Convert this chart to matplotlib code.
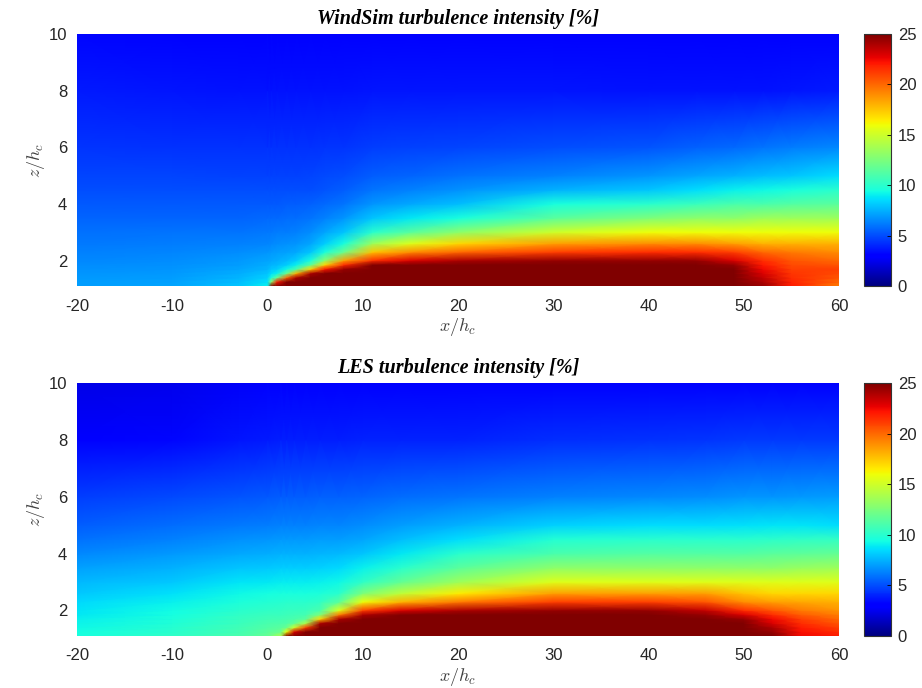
import numpy as np
import matplotlib
matplotlib.use("Agg")
import matplotlib.pyplot as plt


# ------------------------------------------------------------
# Grid (heights shared by both panels)
# ------------------------------------------------------------
Z_LEVELS = [1.1, 1.25, 1.4, 1.55, 1.7, 1.85, 2.0, 2.3, 2.6, 3.0,
            3.5, 4.0, 4.5, 5.0, 6.0, 8.0, 10.0]

# ------------------------------------------------------------
# WindSim turbulence intensity [%], one vertical profile per x station
# ------------------------------------------------------------
WINDSIM_X = [-20, -10, -3, 0, 0.4, 1, 2, 3, 4.5, 6, 8, 11, 15, 20,
             30, 40, 45, 49, 52, 55, 60]
WINDSIM_TI = [
    [7.0, 7.0, 6.9, 6.8, 6.7, 6.6, 6.5, 6.3, 6.1, 5.9, 5.6, 5.3, 5.0, 4.8, 4.4, 3.8, 3.3],
    [7.2, 7.1, 7.0, 6.9, 6.8, 6.7, 6.6, 6.4, 6.2, 6.0, 5.6, 5.3, 5.0, 4.8, 4.3, 3.7, 3.2],
    [8.0, 7.8, 7.6, 7.4, 7.2, 7.0, 6.9, 6.6, 6.3, 6.0, 5.6, 5.3, 5.0, 4.7, 4.3, 3.6, 3.1],
    [9.0, 8.6, 8.3, 8.0, 7.6, 7.4, 7.2, 6.8, 6.4, 6.1, 5.7, 5.3, 5.0, 4.7, 4.3, 3.6, 3.1],
    [25, 13, 9.5, 8.5, 8.0, 7.6, 7.3, 6.9, 6.5, 6.1, 5.7, 5.3, 5.0, 4.7, 4.3, 3.6, 3.1],
    [25, 22, 12, 9.0, 8.2, 7.7, 7.4, 7.0, 6.6, 6.2, 5.7, 5.3, 5.0, 4.7, 4.3, 3.6, 3.1],
    [25, 25, 20, 12, 9.2, 8.2, 7.7, 7.1, 6.7, 6.2, 5.8, 5.4, 5.0, 4.7, 4.3, 3.6, 3.1],
    [25, 25, 24, 18, 11, 9.0, 8.2, 7.3, 6.8, 6.3, 5.8, 5.4, 5.0, 4.7, 4.3, 3.6, 3.1],
    [25, 25, 25, 24, 17, 11.5, 9.5, 8.0, 7.2, 6.6, 6.0, 5.5, 5.0, 4.8, 4.3, 3.6, 3.1],
    [25, 25, 25, 25, 22, 17, 13, 9.5, 8.2, 7.2, 6.3, 5.7, 5.2, 4.9, 4.4, 3.6, 3.1],
    [25, 25, 25, 25, 24.5, 21.5, 18.5, 12, 9.5, 8.0, 6.8, 6.0, 5.4, 5.0, 4.4, 3.6, 3.1],
    [25, 25, 25, 25, 25, 25, 21.5, 17.5, 13.5, 10, 8.0, 6.8, 6.0, 5.4, 4.6, 3.7, 3.1],
    [25, 25, 25, 25, 25, 25, 23, 19, 15.5, 11.5, 8.8, 7.3, 6.3, 5.6, 4.7, 3.7, 3.0],
    [25, 25, 25, 25, 25, 25, 24, 20, 17, 13, 9.5, 7.8, 6.7, 5.9, 4.8, 3.7, 3.0],
    [25, 25, 25, 25, 25, 25, 24.5, 21, 18.5, 15, 11.5, 9.5, 7.5, 6.3, 5.0, 3.7, 3.0],
    [25, 25, 25, 25, 25, 25, 24.5, 21.5, 19, 16, 12.5, 10, 8.0, 6.8, 5.2, 3.6, 2.9],
    [25, 25, 25, 25, 25, 25, 24.5, 21.5, 19, 16, 13, 10.5, 8.5, 7.2, 5.5, 3.6, 2.9],
    [25, 25, 25, 25, 25, 24.5, 23, 21, 18.5, 16, 13, 11, 9.0, 7.5, 5.7, 3.6, 2.9],
    [24.5, 24, 23.5, 23, 22.5, 22, 21.5, 20, 18, 16, 13.5, 11, 9.2, 7.8, 6.0, 3.6, 2.9],
    [22, 21.8, 21.5, 21.3, 21, 20.8, 20.5, 19.5, 18, 16, 13.5, 11.3, 9.5, 8.0, 6.2, 3.7, 2.9],
    [19.5, 20, 20.5, 20.8, 21, 20.5, 20, 19, 18, 16, 13.5, 11.5, 10, 8.5, 6.5, 3.8, 2.9],
]

# ------------------------------------------------------------
# LES turbulence intensity [%], one vertical profile per x station
# ------------------------------------------------------------
LES_X = [-20, -10, -3, 0, 1.4, 2, 2.8, 4, 5.5, 7.5, 10, 14, 20,
         30, 40, 46, 50, 53, 56, 60]
LES_TI = [
    [9.5, 9.4, 9.2, 9.1, 9.0, 8.8, 8.7, 8.4, 8.1, 7.7, 7.1, 6.5, 5.9, 5.4, 4.6, 3.0, 2.3],
    [10.2, 10.0, 9.9, 9.7, 9.6, 9.4, 9.3, 9.0, 8.6, 8.1, 7.5, 6.9, 6.3, 5.8, 4.9, 3.3, 2.4],
    [11.0, 10.8, 10.7, 10.5, 10.4, 10.2, 10.0, 9.6, 9.2, 8.7, 8.0, 7.3, 6.7, 6.1, 5.2, 3.7, 2.7],
    [11.8, 11.5, 11.2, 11.0, 10.7, 10.5, 10.2, 9.8, 9.4, 8.8, 8.1, 7.4, 6.8, 6.2, 5.3, 3.8, 2.8],
    [14, 12, 11.5, 11.1, 10.8, 10.5, 10.3, 9.9, 9.5, 8.9, 8.2, 7.5, 6.9, 6.3, 5.4, 3.9, 2.8],
    [25, 16, 12, 11.2, 10.9, 10.6, 10.4, 10.0, 9.5, 8.9, 8.2, 7.5, 6.9, 6.3, 5.4, 3.9, 2.8],
    [25, 23, 15, 11.8, 11.0, 10.7, 10.4, 10.0, 9.5, 8.9, 8.2, 7.5, 6.9, 6.3, 5.4, 3.9, 2.8],
    [25, 25, 21, 14, 11.5, 10.8, 10.5, 10.0, 9.5, 8.9, 8.2, 7.5, 6.9, 6.3, 5.4, 3.9, 2.8],
    [25, 25, 25, 24, 17, 12.5, 11.0, 10.2, 9.6, 9.0, 8.3, 7.6, 7.0, 6.4, 5.5, 3.9, 2.8],
    [25, 25, 25, 25, 24, 19.5, 15.5, 11.5, 10.0, 9.2, 8.4, 7.7, 7.0, 6.4, 5.5, 3.9, 2.9],
    [25, 25, 25, 25, 25, 24, 21, 16, 12.5, 10.2, 9.0, 8.0, 7.2, 6.6, 5.6, 4.0, 2.9],
    [25, 25, 25, 25, 25, 25, 23, 18, 14.5, 11.8, 10.0, 8.8, 7.8, 7.0, 5.8, 4.0, 2.9],
    [25, 25, 25, 25, 25, 25, 24, 19.5, 16.5, 13.5, 11.5, 10.0, 8.5, 7.5, 6.0, 4.0, 2.9],
    [25, 25, 25, 25, 25, 25, 24.5, 21, 18.5, 15.5, 13, 11, 9.8, 8.3, 6.3, 4.2, 3.0],
    [25, 25, 25, 25, 25, 25, 24.5, 21, 18.5, 15.5, 13, 11.3, 10.0, 8.5, 6.5, 4.3, 3.0],
    [25, 25, 25, 25, 25, 24.5, 23.5, 20.5, 18.5, 15.5, 13, 11.3, 10.0, 8.5, 6.6, 4.4, 3.0],
    [25, 25, 25, 25, 24.5, 23, 21.5, 19, 17.5, 15.5, 13, 11.3, 10.0, 8.6, 6.8, 4.5, 3.0],
    [25, 24.5, 24, 23, 22.5, 21.5, 20.5, 18.5, 17, 15.5, 13, 11.5, 10.1, 8.7, 6.8, 4.5, 3.0],
    [22.5, 22.3, 22, 21.5, 21, 20.3, 19.5, 18.3, 17, 15.5, 13.3, 11.6, 10.2, 8.7, 6.9, 4.5, 3.0],
    [22, 21.5, 21, 20.5, 20, 19.4, 18.8, 18, 17, 15.5, 13.5, 11.8, 10.3, 8.5, 7.0, 4.5, 3.0],
]

X_TICKS = [-20, -10, 0, 10, 20, 30, 40, 50, 60]
Z_TICKS = [2, 4, 6, 8, 10]
CBAR_TICKS = [0, 5, 10, 15, 20, 25]

TICK_COLOR = "#262626"
LABEL_COLOR = "#404040"


# ------------------------------------------------------------
# Helper functions
# ------------------------------------------------------------
def draw_panel(fig, ax_rect, cbar_rect, x_nodes, ti_profiles, title):
    ax = fig.add_axes(ax_rect)
    cax = fig.add_axes(cbar_rect)

    X, Z = np.meshgrid(x_nodes, Z_LEVELS)
    C = np.array(ti_profiles).T

    mesh = ax.pcolormesh(X, Z, C, cmap="jet", vmin=0, vmax=25,
                         shading="gouraud", rasterized=True)

    ax.set_xlim(-20, 60)
    ax.set_ylim(1.1, 10)
    ax.set_xticks(X_TICKS)
    ax.set_yticks(Z_TICKS)
    ax.tick_params(length=0, labelsize=12, labelcolor=TICK_COLOR)
    ax.tick_params(axis="x", pad=9)
    ax.tick_params(axis="y", pad=7)
    for label in ax.get_xticklabels() + ax.get_yticklabels():
        label.set_family("Liberation Sans")
    for spine in ax.spines.values():
        spine.set_visible(False)

    ax.set_xlabel(r"$x/h_c$", fontsize=13, color=LABEL_COLOR, labelpad=2)
    ax.set_ylabel(r"$z/h_c$", fontsize=13, color=LABEL_COLOR, labelpad=1)
    ax.set_title(title, fontsize=14.5, fontweight="bold", fontstyle="italic",
                 family="Liberation Serif", pad=7)

    cbar = fig.colorbar(mesh, cax=cax, ticks=CBAR_TICKS)
    cbar.outline.set_linewidth(0.8)
    cbar.outline.set_edgecolor("#333333")
    cbar.ax.tick_params(direction="in", length=3, width=0.6,
                        labelsize=12, labelcolor=TICK_COLOR, pad=5)
    for label in cbar.ax.get_yticklabels():
        label.set_family("Liberation Sans")
    cbar.minorticks_off()
    return ax


# ------------------------------------------------------------
# Main
# ------------------------------------------------------------
def main():
    plt.rcParams["mathtext.fontset"] = "cm"
    plt.rcParams["axes.unicode_minus"] = False

    fig = plt.figure(figsize=(9.22, 6.88), dpi=100)

    draw_panel(fig, [0.0835, 0.5843, 0.8265, 0.3663], [0.937, 0.5843, 0.0293, 0.3663],
               WINDSIM_X, WINDSIM_TI, "WindSim turbulence intensity [%]")
    draw_panel(fig, [0.0835, 0.0756, 0.8265, 0.3677], [0.937, 0.0756, 0.0293, 0.3677],
               LES_X, LES_TI, "LES turbulence intensity [%]")

    fig.savefig("out.png", dpi=100)
    plt.close(fig)


if __name__ == "__main__":
    main()
